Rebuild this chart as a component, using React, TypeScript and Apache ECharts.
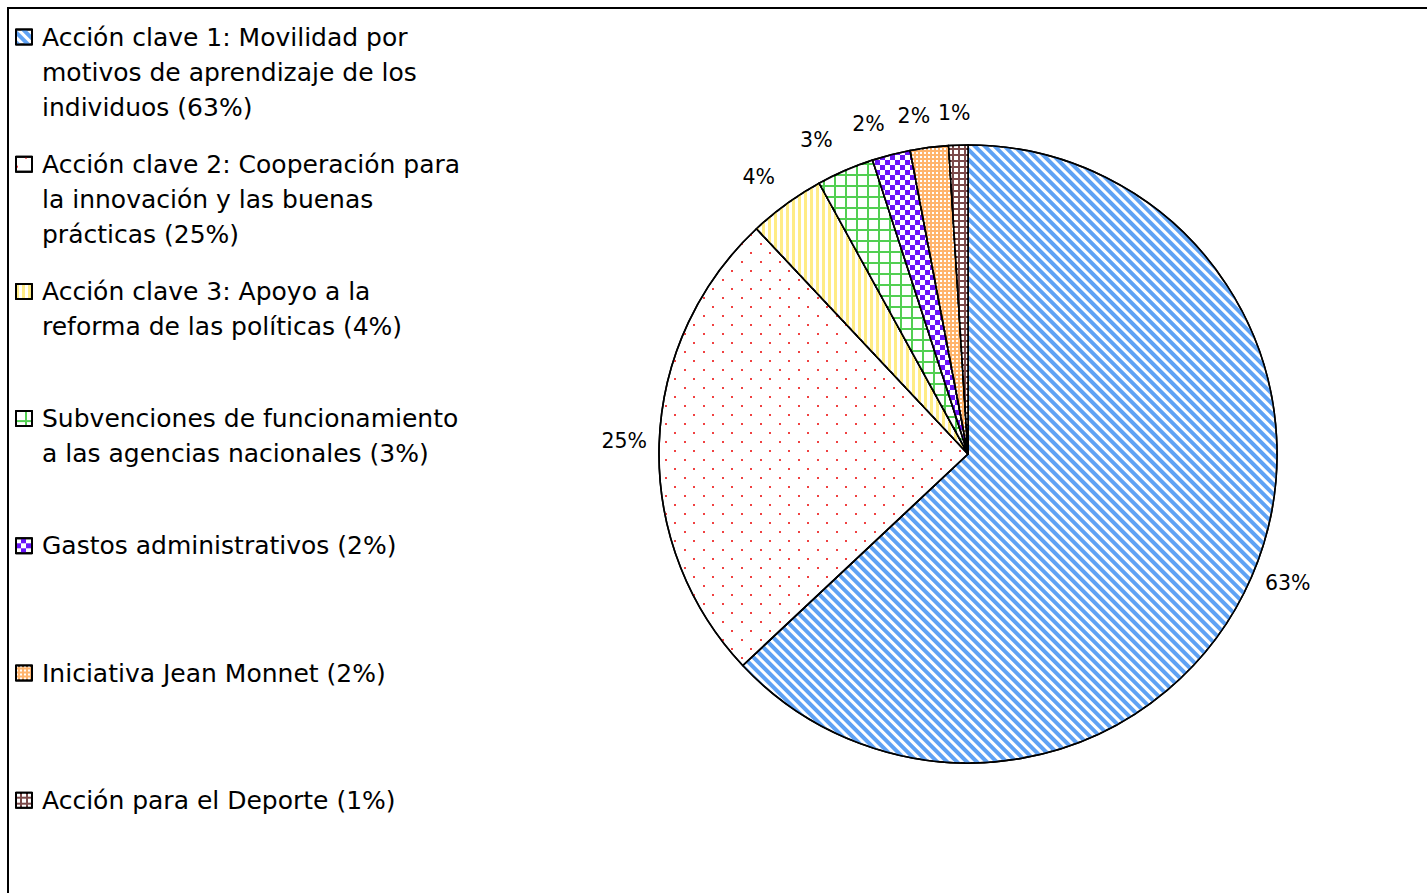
import React, { useEffect, useRef } from 'react';
import * as echarts from 'echarts';

// ---- data ----
const categories: string[] = [
  'Acción clave 1: Movilidad por\nmotivos de aprendizaje de los\nindividuos (63%)',
  'Acción clave 2: Cooperación para\nla innovación y las buenas\nprácticas (25%)',
  'Acción clave 3: Apoyo a la\nreforma de las políticas (4%)',
  'Subvenciones de funcionamiento\na las agencias nacionales (3%)',
  'Gastos administrativos (2%)',
  'Iniciativa Jean Monnet (2%)',
  'Acción para el Deporte (1%)',
];
const shares: number[] = [63, 25, 4, 3, 2, 2, 1];

// ---- styles ----
const FONT = '"DejaVu Sans", "Liberation Sans", sans-serif';
const baseColors = ['#ffffff', '#ffffff', '#ffffff', '#52CF52', '#ffffff', '#FFB46C', '#7B4A4A'];

const mkDecal = (o: any) => ({
  symbol: 'rect',
  symbolSize: 1,
  symbolKeepAspect: false,
  backgroundColor: null,
  rotation: 0,
  maxTileWidth: 512,
  maxTileHeight: 512,
  ...o,
});

const decals = [
  mkDecal({ color: '#5FA2F4', dashArrayX: [8, 0], dashArrayY: [4, 3], rotation: Math.PI / 4 }),
  mkDecal({ color: '#F04242', dashArrayX: [[2, 17], [0, 9, 2, 8]], dashArrayY: [2, 7] }),
  mkDecal({ color: '#FFEC85', dashArrayX: [3, 3], dashArrayY: [10, 0] }),
  mkDecal({ color: '#ffffff', dashArrayX: [9, 2], dashArrayY: [9, 2] }),
  mkDecal({ color: '#6A14FA', dashArrayX: [[5, 5], [0, 5, 5, 0]], dashArrayY: [5, 0] }),
  mkDecal({ color: '#ffffff', dashArrayX: [2, 2], dashArrayY: [2, 2] }),
  mkDecal({ color: '#ffffff', dashArrayX: [4, 2], dashArrayY: [4, 2] }),
];

// small label nudges (px) to mimic the original label placement
const labelNudgeX = [4, 0, -7, -15, -14, -11, -3];
const labelNudgeY = [-8, -2, 1, 2, 3, 3, 3];

const CENTER = [968, 454];
const R = 309;
const LABEL_GAP = 35;
const LINE = 35.3;
const LEG_Y0 = 37;
const LEG_STEP = 127.2;

export default function App() {
  const ref = useRef<HTMLDivElement>(null);
  useEffect(() => {
    if (!ref.current) return;
    const chart = echarts.init(ref.current, undefined, { renderer: 'svg' });

    const legends = categories.map((name, i) => {
      const n = name.split('\n').length;
      return {
        show: true,
        orient: 'vertical',
        left: 15,
        top: LEG_Y0 + i * LEG_STEP - ((2 * n - 1) * LINE) / 2,
        padding: 0,
        icon: 'rect',
        itemWidth: 16,
        itemHeight: 15,
        selectedMode: false,
        itemStyle: { borderColor: '#000', borderWidth: 2 },
        data: [name],
        formatter: (nm: string) => '\n'.repeat(n - 1) + nm,
        textStyle: {
          fontFamily: FONT,
          fontSize: 25,
          color: '#000',
          lineHeight: LINE,
          padding: [0, 0, 0, 5],
          backgroundColor: 'rgba(0,0,0,0)',
        },
      };
    });

    chart.setOption({
      animation: false,
      backgroundColor: '#fff',
      aria: { enabled: true, decal: { show: true } },
      graphic: [
        {
          type: 'rect',
          silent: true,
          z: -1,
          shape: { x: 8, y: 8, width: 1600, height: 1000 },
          style: { fill: 'none', stroke: '#000', lineWidth: 2 },
        },
      ],
      legend: legends,
      series: [
        {
          type: 'pie',
          center: CENTER,
          radius: [0, R],
          startAngle: 90,
          clockwise: true,
          avoidLabelOverlap: false,
          label: {
            show: true,
            position: 'outside',
            formatter: '{c}%',
            fontFamily: FONT,
            fontSize: 20.5,
            color: '#000',
            distanceToLabelLine: 0,
          },
          labelLine: { show: false, length: LABEL_GAP, length2: 0 },
          labelLayout: (p: any) => ({
            align: 'center',
            verticalAlign: 'middle',
            dx: labelNudgeX[p.dataIndex] || 0,
            dy: labelNudgeY[p.dataIndex] || 0,
          }),
          emphasis: { scale: false },
          itemStyle: { borderColor: '#000', borderWidth: 1.6 },
          data: categories.map((name, i) => ({
            name,
            value: shares[i],
            itemStyle: { color: baseColors[i], decal: decals[i] },
          })),
        },
      ],
    });
    return () => chart.dispose();
  }, []);
  return (
    <div
      ref={ref}
      style={{ position: 'absolute', left: 0, top: 0, width: 1427, height: 893 }}
    />
  );
}
